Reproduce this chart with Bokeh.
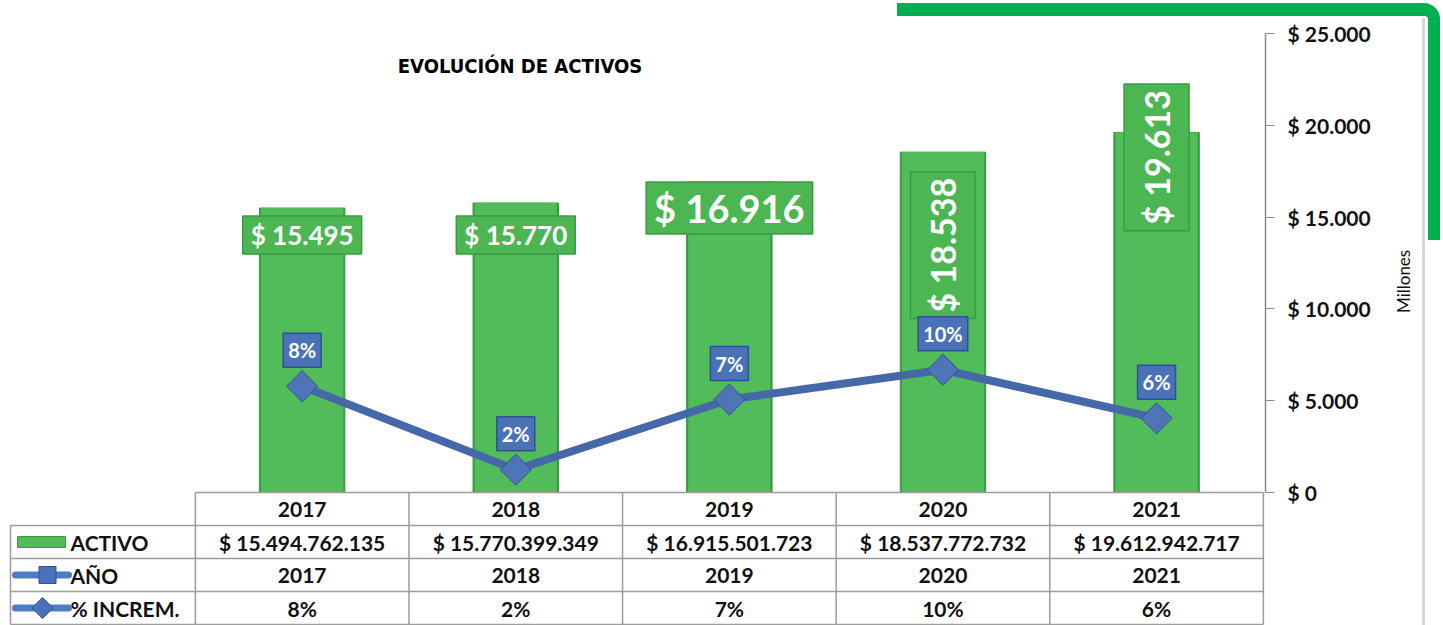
import math
from bokeh.plotting import figure
from bokeh.models import (Range1d, FixedTicker, CustomJSTickFormatter,
                          Label, ColumnDataSource, InlineStyleSheet)
from bokeh.core.properties import value
from bokeh.embed import file_html
from bokeh.resources import INLINE

# ---------------- data ----------------
YEARS = ["2017", "2018", "2019", "2020", "2021"]
ACTIVO_PESOS = [15494762135, 15770399349, 16915501723, 18537772732, 19612942717]
PCT_INCREM = [0.083, 0.0178, 0.0726, 0.0959, 0.0580]
Y_TICKS = [0, 5000, 10000, 15000, 20000, 25000]
ROW_LABELS = ["ACTIVO", "AÑO", "% INCREM."]
TITLE = "EVOLUCIÓN DE ACTIVOS"
AXIS_LABEL = "Millones"


def fmt_dots(n):
    return "{:,}".format(int(round(n))).replace(",", ".")


idx = list(range(len(YEARS)))
activo_mill = [v / 1e6 for v in ACTIVO_PESOS]

# ---------------- layout / style ----------------
W, H = 1443, 625
BORDER_R = 178
FRAME_W = W - BORDER_R
PITCH = 213.6                     # px per category
X_END = 4.51
X_START = X_END - FRAME_W / PITCH
LEFT_COL = X_START + 10 / PITCH
ZERO_PX = 492                     # px from top of frame to value 0
Y_MAX = 25000
PX_PER_UNIT = 459 / Y_MAX
PCT_PX = 1280                     # px per 100 %
ROW_PX = 33

FONT = value("Lato")
FONT_S = "Lato"
GREEN = "#52bb5a"
GREEN_DARK = "#3a9a41"
BLUE = "#4a72b8"
BLUE_DARK = "#2f528f"
LINE_BLUE = "#4468a8"
GRID = "#9c9c9c"

# per-label styling of the bar value labels (horizontal ones, then vertical ones)
H_SIZE = ["26px", "26px", "38px"]
H_DY = [27, 32, 26]
V_SIZE = ["34px", "34px"]
V_DY = [93, 25]

CSS = """
:host::after {
  content: ""; position: absolute; pointer-events: none;
  left: 897px; top: 3px; width: 531px; height: 224px;
  border-top: 13px solid #00b050; border-right: 12px solid #00b050;
  border-top-right-radius: 16px; z-index: 10;
}
:host::before {
  content: ""; position: absolute; pointer-events: none;
  left: 1422px; top: 18px; width: 3px; height: 607px;
  background: #d6d6d6; z-index: 9;
}
"""

p = figure(width=W, height=H, output_backend="svg", toolbar_location=None,
           x_range=Range1d(X_START, X_END),
           y_range=Range1d(-(H - ZERO_PX) / PX_PER_UNIT, ZERO_PX / PX_PER_UNIT),
           x_axis_location=None, y_axis_location="right",
           min_border_left=0, min_border_top=0, min_border_bottom=0,
           min_border_right=BORDER_R)
p.stylesheets = [InlineStyleSheet(css=CSS)]
p.outline_line_color = None
p.grid.visible = False
p.background_fill_color = "white"
p.border_fill_color = "white"

p.extra_y_ranges = {
    "pct": Range1d(-(H - ZERO_PX) / PCT_PX, ZERO_PX / PCT_PX),
    "tbl": Range1d(-(H - ZERO_PX) / ROW_PX, ZERO_PX / ROW_PX),
}

# right axis
ax = p.yaxis[0]
ax.ticker = FixedTicker(ticks=Y_TICKS)
ax.bounds = (0, Y_MAX)
ax.formatter = CustomJSTickFormatter(
    code="return '$ ' + tick.toFixed(0).replace(/\\B(?=(\\d{3})+(?!\\d))/g, '.');")
ax.axis_label = AXIS_LABEL
ax.axis_label_text_font = FONT_S
ax.axis_label_text_font_size = "17px"
ax.axis_label_text_font_style = "normal"
ax.axis_label_text_color = "#111111"
ax.axis_label_standoff = 30
ax.axis_label_orientation = math.pi / 2
ax.major_label_text_font = FONT_S
ax.major_label_text_font_size = "21px"
ax.major_label_text_font_style = "bold"
ax.major_label_text_color = "#111111"
ax.major_label_standoff = 13
ax.major_tick_in = 0
ax.major_tick_out = 9
ax.major_tick_line_color = "#8c8c8c"
ax.minor_tick_line_color = None
ax.axis_line_color = "#8c8c8c"
ax.axis_line_width = 1.5

# title
p.add_layout(Label(x=1.02, y=(ZERO_PX - 65) / PX_PER_UNIT, text=TITLE,
                   text_align="center", text_baseline="middle",
                   text_font="DejaVu Sans Condensed", text_font_size="20px",
                   text_font_style="bold", text_color="black"))

# bars
p.vbar(x=idx, top=activo_mill, width=0.4, fill_color=GREEN_DARK, line_color=GREEN_DARK,
       line_width=1)
p.vbar(x=idx, top=activo_mill, width=0.385, fill_color=GREEN, line_color=None)

# bar value labels
texts = ["$ " + fmt_dots(v) for v in activo_mill]
hsrc = ColumnDataSource(dict(x=idx[:3], y=activo_mill[:3], text=texts[:3],
                             size=H_SIZE, dy=H_DY))
vsrc = ColumnDataSource(dict(x=idx[3:], y=activo_mill[3:], text=texts[3:],
                             size=V_SIZE, dy=V_DY))
common = dict(x="x", y="y", text="text", y_offset="dy", text_font=FONT,
              text_font_size="size", text_font_style="bold", text_color="white",
              text_align="center", text_baseline="middle",
              background_fill_color="#4cb752", border_line_color=GREEN_DARK,
              border_line_width=1.5)
p.text(source=hsrc, angle=0, padding=dict(top=3, bottom=3, left=8, right=8), **common)
p.text(source=vsrc, angle=math.pi / 2,
       padding=dict(top=12, bottom=12, left=6, right=6), **common)

# % increment line
p.line(x=idx, y=PCT_INCREM, y_range_name="pct", line_width=8, line_color=LINE_BLUE)
p.scatter(x=idx, y=PCT_INCREM, y_range_name="pct", marker="square",
          angle=math.pi / 4, size=22, fill_color="#4f75b8", line_color=BLUE_DARK)
p.text(x=idx, y=PCT_INCREM, text=["{}%".format(round(v * 100)) for v in PCT_INCREM],
       y_range_name="pct", y_offset=-36, text_font=FONT, text_font_size="20px",
       text_font_style="bold", text_color="white", text_align="center",
       text_baseline="middle", background_fill_color=BLUE,
       border_line_color=BLUE_DARK, border_line_width=1.5, padding=5)

# data table
n = len(YEARS)
hx0, hx1, hy = [-0.5], [n - 0.5], [0]
for r in range(1, 5):
    hx0.append(LEFT_COL); hx1.append(n - 0.5); hy.append(-r)
p.segment(x0=hx0, x1=hx1, y0=hy, y1=hy, y_range_name="tbl",
          line_color=GRID, line_width=1.5)
vx, vy0, vy1 = [], [], []
for i in range(n + 1):
    vx.append(i - 0.5); vy0.append(0); vy1.append(-4)
vx.append(LEFT_COL); vy0.append(-1); vy1.append(-4)
p.segment(x0=vx, x1=vx, y0=vy0, y1=vy1, y_range_name="tbl",
          line_color=GRID, line_width=1.5)

tx, ty, tt = [], [], []
for i, yr in enumerate(YEARS):
    tx += [i, i, i, i]
    ty += [-0.5, -1.5, -2.5, -3.5]
    tt += [yr, "$ " + fmt_dots(ACTIVO_PESOS[i]), yr,
           "{}%".format(round(PCT_INCREM[i] * 100))]
p.text(x=tx, y=ty, text=tt, y_range_name="tbl", text_font=FONT,
       text_font_size="21px", text_font_style="bold", text_color="#111111",
       text_align="center", text_baseline="middle")

# row labels with legend keys
p.text(x=[LEFT_COL + 60 / PITCH] * 3, y=[-1.5, -2.5, -3.5], text=ROW_LABELS,
       y_range_name="tbl", text_font=FONT, text_font_size="21px",
       text_font_style="bold", text_color="#111111", text_align="left",
       text_baseline="middle")
p.rect(x=[LEFT_COL + 31 / PITCH], y=[-1.5], width=48, height=11,
       width_units="screen", height_units="screen", y_range_name="tbl",
       fill_color=GREEN, line_color=GREEN_DARK)
for yy, mk_px, sz, ang in [(-2.5, 37, 17, 0), (-3.5, 32, 15, math.pi / 4)]:
    p.segment(x0=[LEFT_COL + 5 / PITCH], x1=[LEFT_COL + 58 / PITCH], y0=[yy], y1=[yy],
              y_range_name="tbl", line_color="#4f7cc0", line_width=7,
              line_cap="round")
    p.scatter(x=[LEFT_COL + mk_px / PITCH], y=[yy], y_range_name="tbl",
              marker="square", angle=ang, size=sz,
              fill_color=BLUE, line_color=BLUE_DARK)

open("out.html", "w").write(file_html(p, INLINE))
